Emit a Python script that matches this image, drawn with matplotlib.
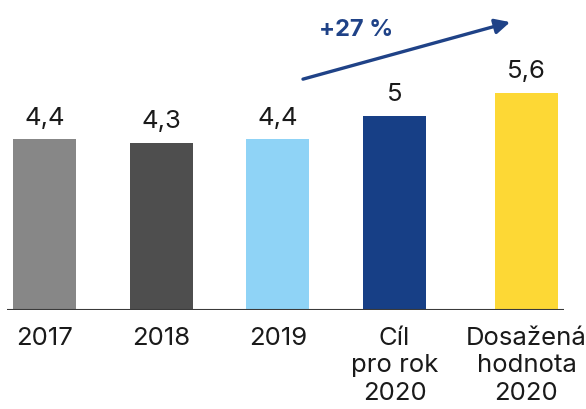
import matplotlib
matplotlib.use('Agg')
import matplotlib.pyplot as plt

# Data
categories = ['2017', '2018', '2019', 'Cíl\npro rok\n2020', 'Dosažená\nhodnota\n2020']
values = [4.4, 4.3, 4.4, 5.0, 5.6]
growth_label = '+27 %'

colors = ['#878787', '#4e4e4e', '#8fd3f6', '#173f86', '#fdd835']
positions = [0, 1, 2, 3, 4.13]

plt.rcParams['font.family'] = ['Inter', 'DejaVu Sans']

fig = plt.figure(figsize=(5.86, 4.09), dpi=100)
ax = fig.add_axes([0, 99 / 409, 1, 310 / 409])

ax.bar(positions, values, width=0.54, color=colors, zorder=2)

# value labels with decimal comma
for x, v in zip(positions, values):
    txt = f'{v:g}'.replace('.', ',')
    ax.annotate(txt, (x, v), xytext=(0, 7), textcoords='offset points',
                ha='center', va='bottom', fontsize=18.5, color='#1a1a1a')

# baseline
ax.plot([-0.321, 4.452], [0, 0], color='#3a3a3a', lw=1.5, zorder=3,
        solid_capstyle='butt')

# growth arrow
ax.annotate('', xy=(3.99, 7.42), xytext=(2.215, 5.95),
            arrowprops=dict(arrowstyle='-|>,head_length=0.9,head_width=0.45',
                            color='#1f4287', lw=2.4, shrinkA=0, shrinkB=0))
ax.text(2.67, 6.93, growth_label, ha='center', va='bottom', fontsize=17,
        fontweight='bold', color='#1f4287')

ax.set_xlim(-0.381, 4.64)
ax.set_ylim(0, 310 / 38.8)
ax.set_xticks(positions, categories)
ax.tick_params(axis='x', length=0, pad=12, labelsize=18.5, labelcolor='#1a1a1a')
for lbl in ax.get_xticklabels():
    lbl.set_linespacing(1.25)
ax.set_yticks([])
for s in ax.spines.values():
    s.set_visible(False)
ax.patch.set_alpha(0)

fig.savefig('out.png', dpi=100)
